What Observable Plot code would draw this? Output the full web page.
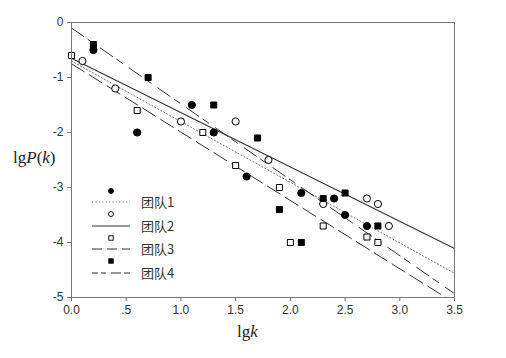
<!DOCTYPE html>
<html>
<head>
<meta charset="utf-8">
<script src="https://cdn.jsdelivr.net/npm/d3@7"></script>
<script src="https://cdn.jsdelivr.net/npm/@observablehq/plot@0.6"></script>
<style>
  html, body { margin: 0; padding: 0; background: white; }
  #chart { width: 506px; height: 358px; }
</style>
</head>
<body>
<div id="chart"></div>
<script>
// ---- data ----
const teams = ["团队1", "团队2", "团队3", "团队4"];

const team1X = [0.2, 0.6, 1.1, 1.3, 1.6, 2.1, 2.4, 2.5, 2.7];
const team1Y = [-0.5, -2.0, -1.5, -2.0, -2.8, -3.1, -3.2, -3.5, -3.7];

const team2X = [0.1, 0.4, 1.0, 1.5, 1.8, 2.3, 2.7, 2.8, 2.9];
const team2Y = [-0.7, -1.2, -1.8, -1.8, -2.5, -3.3, -3.2, -3.3, -3.7];

const team3X = [0.0, 0.6, 1.2, 1.5, 1.9, 2.0, 2.3, 2.7, 2.8];
const team3Y = [-0.6, -1.6, -2.0, -2.6, -3.0, -4.0, -3.7, -3.9, -4.0];

const team4X = [0.2, 0.7, 1.3, 1.7, 1.9, 2.1, 2.3, 2.5, 2.8];
const team4Y = [-0.4, -1.0, -1.5, -2.1, -3.4, -4.0, -3.2, -3.1, -3.7];

// fitted lines: start (x=0) and end points
const fitStartX = [0, 0, 0, 0];
const fitStartY = [-0.7, -0.65, -0.75, -0.1];
const fitEndX = [3.5, 3.5, 3.42, 3.5];
const fitEndY = [-4.56, -4.11, -5.0, -4.93];

const xTicks = [0, 0.5, 1.0, 1.5, 2.0, 2.5, 3.0, 3.5];
const xTickLabels = ["0.0", ".5", "1.0", "1.5", "2.0", "2.5", "3.0", "3.5"];
const yTicks = [-5, -4, -3, -2, -1, 0];
const yTickLabels = ["-5", "-4", "-3", "-2", "-1", "0"];

// ---- build tables ----
const allX = [team1X, team2X, team3X, team4X];
const allY = [team1Y, team2Y, team3Y, team4Y];
const points = [];
teams.forEach((t, i) => allX[i].forEach((x, j) => points.push({team: t, x, y: allY[i][j]})));
const fits = teams.map((t, i) => [
  {team: t, x: fitStartX[i], y: fitStartY[i]},
  {team: t, x: fitEndX[i], y: fitEndY[i]}
]);

// styles per team
const markerStyle = [
  {symbol: "circle", fill: "black", stroke: "black", r: 3.6},
  {symbol: "circle", fill: "white", stroke: "black", r: 3.6},
  {symbol: "square", fill: "white", stroke: "black", r: 3.4},
  {symbol: "square", fill: "black", stroke: "black", r: 3.4}
];
const lineStyle = [
  {stroke: "#777", strokeDasharray: "1.2,2.2", strokeWidth: 1},
  {stroke: "#333", strokeDasharray: null, strokeWidth: 1.1},
  {stroke: "#333", strokeDasharray: "15,6", strokeWidth: 1},
  {stroke: "#333", strokeDasharray: "15,5,7,8", strokeWidth: 1}
];

const marks = [];
teams.forEach((t, i) => {
  const ls = lineStyle[i];
  const o = {x: "x", y: "y", stroke: ls.stroke, strokeWidth: ls.strokeWidth};
  if (ls.strokeDasharray) o.strokeDasharray = ls.strokeDasharray;
  marks.push(Plot.line(fits[i], o));
});
teams.forEach((t, i) => {
  const ms = markerStyle[i];
  marks.push(Plot.dot(points.filter(d => d.team === t), {
    x: "x", y: "y", symbol: ms.symbol, fill: ms.fill, stroke: ms.stroke, strokeWidth: 1, r: ms.r
  }));
});

const chart = Plot.plot({
  width: 506,
  height: 358,
  marginLeft: 71,
  marginRight: 52,
  marginTop: 22,
  marginBottom: 61,
  x: {domain: [0, 3.5]},
  y: {domain: [-5, 0]},
  style: {fontFamily: "'Liberation Sans', Arial, sans-serif", fontSize: "12px", color: "#333", background: "white"},
  marks: [
    ...marks,
    Plot.frame({stroke: "#777", strokeWidth: 1}),
    Plot.axisX({ticks: xTicks, tickFormat: d => xTickLabels[xTicks.indexOf(d)], tickSize: 4, tickPadding: 4, label: null, stroke: "#777", fill: "#333"}),
    Plot.axisY({ticks: yTicks, tickFormat: d => yTickLabels[yTicks.indexOf(d)], tickSize: 4, tickPadding: 4, label: null, stroke: "#777", fill: "#333"})
  ]
});
document.getElementById("chart").appendChild(chart);

// ---- axis titles and legend (drawn into the same svg) ----
const svg = d3.select(chart);
const yl = svg.append("text").attr("x", 13).attr("y", 163).attr("text-anchor", "start")
  .attr("font-family", "'Liberation Serif', 'Times New Roman', serif").attr("font-size", 17).attr("fill", "#222");
yl.append("tspan").text("lg");
yl.append("tspan").attr("font-style", "italic").text("P");
yl.append("tspan").text("(");
yl.append("tspan").attr("font-style", "italic").text("k");
yl.append("tspan").text(")");

const xl = svg.append("text").attr("x", 237).attr("y", 337).attr("text-anchor", "start")
  .attr("font-family", "'Liberation Serif', 'Times New Roman', serif").attr("font-size", 17).attr("fill", "#222");
xl.append("tspan").text("lg");
xl.append("tspan").attr("font-style", "italic").text("k");

const leg = svg.append("g");
const legMarkerY = [191, 214, 238, 261];
const legLineY = [202, 226, 249, 273];
const legDash = [lineStyle[0].strokeDasharray, null, "10,5", "6,3,5,5,10,3,6,3"];
teams.forEach((t, i) => {
  const ms = markerStyle[i];
  if (ms.symbol === "circle") {
    leg.append("circle").attr("cx", 111).attr("cy", legMarkerY[i]).attr("r", 2.5)
      .attr("fill", ms.fill).attr("stroke", "black").attr("stroke-width", 0.9);
  } else {
    leg.append("rect").attr("x", 108.8).attr("y", legMarkerY[i] - 2.2).attr("width", 4.4).attr("height", 4.4)
      .attr("fill", ms.fill).attr("stroke", "black").attr("stroke-width", 0.9);
  }
  const ln = leg.append("line").attr("x1", 92).attr("x2", 130).attr("y1", legLineY[i]).attr("y2", legLineY[i])
    .attr("stroke", lineStyle[i].stroke).attr("stroke-width", 1);
  if (legDash[i]) ln.attr("stroke-dasharray", legDash[i]);
  leg.append("text").attr("x", 141).attr("y", legLineY[i]).attr("dy", "0.36em").attr("text-anchor", "start")
    .attr("font-family", "'Noto Sans CJK SC', sans-serif").attr("font-size", 13).attr("fill", "#333").text(t);
});
</script>
</body>
</html>
